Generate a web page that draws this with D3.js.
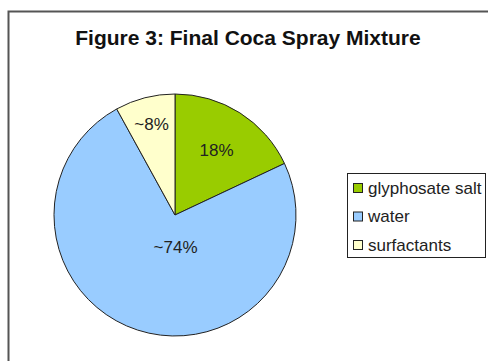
<!DOCTYPE html>
<html>
<head>
<meta charset="utf-8">
<script src="https://cdn.jsdelivr.net/npm/d3@7"></script>
<style>
  body { margin: 0; background: #fff; }
  svg { display: block; font-family: "Liberation Sans", Arial, sans-serif; }
</style>
</head>
<body>
<script>
// data
var categories = ["glyphosate salt", "water", "surfactants"];
var values = [18, 74, 8];
var sliceLabels = ["18%", "~74%", "~8%"];
var colors = ["#99cc00", "#99ccff", "#ffffcc"];

var totalWidth = 488, totalHeight = 361;
var cx = 175, cy = 215, radius = 121;

var svg = d3.select("body").append("svg")
    .attr("width", totalWidth)
    .attr("height", totalHeight);

// chart frame (runs off the right and bottom)
svg.append("rect")
    .attr("x", 8.5).attr("y", 11.5)
    .attr("width", 500).attr("height", 400)
    .attr("fill", "none")
    .attr("stroke", "#555")
    .attr("stroke-width", 2);

svg.append("text")
    .attr("x", 248).attr("y", 45)
    .attr("text-anchor", "middle")
    .attr("font-size", 21)
    .attr("font-weight", "bold")
    .attr("fill", "#111")
    .text("Figure 3: Final Coca Spray Mixture");

var pie = d3.pie().sort(null).value(function(d) { return d; });
var arcs = pie(values);
var arc = d3.arc().innerRadius(0).outerRadius(radius);

var g = svg.append("g")
    .attr("transform", "translate(" + cx + "," + cy + ")");

g.selectAll("path")
    .data(arcs)
    .enter()
    .append("path")
    .attr("d", arc)
    .attr("fill", function(d, i) { return colors[i]; })
    .attr("stroke", "#222")
    .attr("stroke-width", 1);

// label placement: fraction of radius along the mid angle, plus a nudge
var labelR = [0.64, 0.28, 0.78];
var labelDx = [0, 11, 0];
g.selectAll("text.lbl")
    .data(arcs)
    .enter()
    .append("text")
    .attr("class", "lbl")
    .attr("transform", function(d, i) {
        var a = (d.startAngle + d.endAngle) / 2;
        var r = radius * labelR[i];
        return "translate(" + (Math.sin(a) * r + labelDx[i]) + "," + (-Math.cos(a) * r) + ")";
    })
    .attr("text-anchor", "middle")
    .attr("dy", "0.35em")
    .attr("font-size", 17)
    .attr("fill", "#222")
    .text(function(d, i) { return sliceLabels[i]; });

// legend
var legend = svg.append("g").attr("transform", "translate(347,173)");
legend.append("rect")
    .attr("x", 0.5).attr("y", 0.5)
    .attr("width", 138).attr("height", 84)
    .attr("fill", "#fff")
    .attr("stroke", "#222");

var item = legend.selectAll("g.item")
    .data(categories)
    .enter()
    .append("g")
    .attr("class", "item")
    .attr("transform", function(d, i) { return "translate(6," + (15 + i * 28.5) + ")"; });

item.append("rect")
    .attr("x", 0.5).attr("y", -4.5)
    .attr("width", 9).attr("height", 9)
    .attr("fill", function(d, i) { return colors[i]; })
    .attr("stroke", "#222");

item.append("text")
    .attr("x", 15)
    .attr("dy", "0.35em")
    .attr("font-size", 17)
    .attr("fill", "#222")
    .text(function(d) { return d; });
</script>
</body>
</html>
